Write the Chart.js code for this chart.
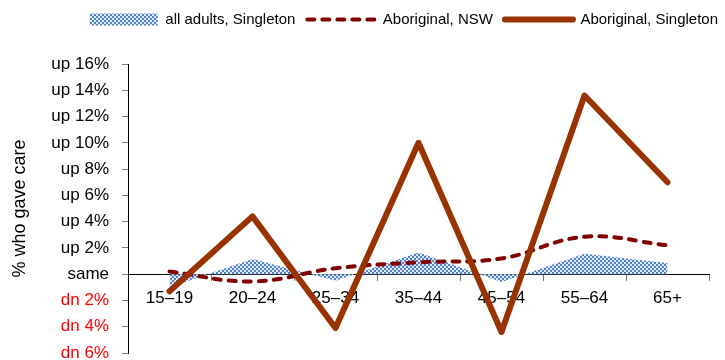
<!DOCTYPE html>
<html>
<head>
<meta charset="utf-8">
<script src="https://cdn.jsdelivr.net/npm/chart.js@4/dist/chart.umd.min.js"></script>
<style>
  html, body { margin: 0; padding: 0; background: #fff; }
  #wrap { width: 725px; height: 360px; }
</style>
</head>
<body>
<div id="wrap"><canvas id="chart"></canvas></div>
<script>
// change in % who gave care, by age group
const AGE_GROUPS = ['15–19', '20–24', '25–34', '35–44', '45–54', '55–64', '65+']
const ALL_ADULTS_SINGLETON = [-1.0, 1.15, -0.5, 1.65, -0.6, 1.55, 0.85]
const ABORIGINAL_NSW = [0.2, -0.55, 0.45, 0.9, 1.2, 2.85, 2.2]
const ABORIGINAL_SINGLETON = [-1.3, 4.4, -4.1, 10.0, -4.4, 13.6, 7.0]

const Y_MIN = -6
const Y_MAX = 16
const Y_STEP = 2

const FONT = "'Liberation Sans', Arial, sans-serif"

const tickLabel = (v) => {
  if (v === 0) return 'same'
  return (v > 0 ? 'up ' : 'dn ') + Math.abs(v) + '%'
}

// small blue checker, like the office "dotted" fill
const makeDots = () => {
  const c = document.createElement('canvas')
  c.width = 4
  c.height = 4
  const g = c.getContext('2d')
  g.fillStyle = '#e4ecf8'
  g.fillRect(0, 0, 4, 4)
  g.fillStyle = '#4f7fcf'
  g.fillRect(0, 0, 2, 2)
  g.fillRect(2, 2, 2, 2)
  return g.createPattern(c, 'repeat')
}

// legend takes the whole band above the plot
const legendBand = {
  id: 'legendBand',
  beforeInit(chart) {
    const legend = chart.legend
    const fit = legend.fit
    legend.fit = function () {
      fit.call(this)
      this.height = 64
    }
  }
}

const chart = new Chart(document.getElementById('chart'), {
  type: 'line',
  data: {
    labels: AGE_GROUPS,
    datasets: [
      {
        label: 'all adults, Singleton',
        data: ALL_ADULTS_SINGLETON,
        backgroundColor: makeDots(),
        borderWidth: 0,
        fill: 'origin',
        tension: 0,
        pointRadius: 0,
        pointStyle: 'rect',
        order: 3
      },
      {
        label: 'Aboriginal, NSW',
        data: ABORIGINAL_NSW,
        borderColor: '#800000',
        borderWidth: 4,
        borderDash: [7, 8],
        borderCapStyle: 'round',
        fill: false,
        tension: 0.4,
        pointRadius: 0,
        pointStyle: 'line',
        order: 2
      },
      {
        label: 'Aboriginal, Singleton',
        data: ABORIGINAL_SINGLETON,
        borderColor: '#993300',
        borderWidth: 6,
        borderCapStyle: 'round',
        borderJoinStyle: 'round',
        fill: false,
        tension: 0,
        pointRadius: 0,
        pointStyle: 'line',
        order: 1
      }
    ]
  },
  plugins: [legendBand],
  options: {
    responsive: true,
    maintainAspectRatio: false,
    animation: false,
    layout: { padding: { top: 0, right: -5, bottom: 7, left: 0 } },
    plugins: {
      tooltip: { enabled: false },
      legend: {
        position: 'top',
        align: 'end',
        labels: {
          usePointStyle: true,
          pointStyleWidth: 68,
          boxHeight: 12,
          padding: 12,
          color: '#000',
          font: { family: FONT, size: 15 },
          sort: (a, b) => a.datasetIndex - b.datasetIndex,
          generateLabels: (chart) => {
            const items = Chart.defaults.plugins.legend.labels.generateLabels(chart)
            items.forEach(item => {
              const ds = chart.data.datasets[item.datasetIndex]
              item.lineDash = ds.borderDash || []
              item.lineWidth = ds.borderWidth
              item.lineCap = ds.borderCapStyle || 'butt'
              item.strokeStyle = ds.borderColor
            })
            return items
          }
        }
      }
    },
    scales: {
      x: {
        position: { y: 0 },
        offset: true,
        grid: { offset: true, drawOnChartArea: false, tickLength: 6, color: '#777' },
        border: { color: '#000', width: 1 },
        ticks: { color: '#000', font: { family: FONT, size: 17 }, padding: 8, maxRotation: 0 },
        afterFit: (s) => {
          s.height = 0
          s.paddingLeft = 0
          s.paddingRight = 16
        }
      },
      y: {
        min: Y_MIN,
        max: Y_MAX,
        grid: { drawOnChartArea: false, tickLength: 6, color: '#777' },
        border: { color: '#000', width: 1 },
        ticks: {
          stepSize: Y_STEP,
          padding: 13,
          font: { family: FONT, size: 17 },
          color: (ctx) => (ctx.tick && ctx.tick.value < 0 ? '#ff0000' : '#000'),
          callback: tickLabel
        },
        title: {
          display: true,
          text: '% who gave care',
          color: '#000',
          font: { family: FONT, size: 18 },
          padding: { top: 9, bottom: 0 }
        },
        afterFit: (s) => {
          s.width = 128
          s.paddingTop = 0
          s.paddingBottom = 0
        }
      }
    }
  }
})
</script>
</body>
</html>
